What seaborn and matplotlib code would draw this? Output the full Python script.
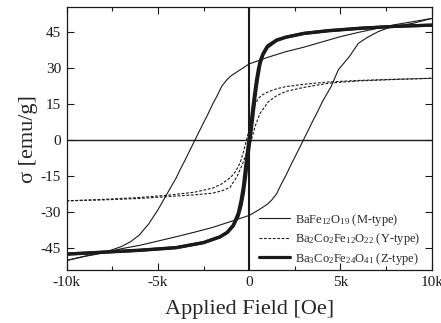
import numpy as np
import pandas as pd
import seaborn as sns
import matplotlib.pyplot as plt

# M-type (BaFe12O19), descending and ascending branches, field in Oe
m_down_x = [10000, 9000, 8000, 7000, 6000, 5000, 4000, 3000, 2000, 1000, 0, -500, -1000, -1230,
            -1500, -1780, -2000, -2330, -2500, -2970, -3500, -3790, -4010, -4500, -5010, -5500,
            -6020, -6500, -7030, -7850, -9000, -10000]
m_down_y = [50.8, 49.5, 48.2, 46.6, 45.0, 43.2, 41.0, 38.8, 36.9, 34.5, 31.8, 29.3, 26.8, 25.1,
            22.5, 18.1, 15.0, 9.7, 7.2, 0.0, -8.2, -12.5, -16.0, -22.5, -29.3, -35.0,
            -39.7, -42.5, -44.6, -46.7, -48.5, -50.3]
m_up_x = [-10000, -9000, -8000, -7000, -6000, -5000, -4000, -3000, -2000, -1000, 0, 500, 1000, 1230,
          1500, 1780, 2000, 2330, 2500, 2970, 3500, 3790, 4010, 4500, 4880, 5500,
          5980, 6500, 7070, 7700, 9000, 10000]
m_up_y = [-50.3, -48.6, -47.2, -45.4, -44.0, -42.2, -40.4, -38.5, -36.5, -34.0, -31.5, -29.3, -26.8, -25.1,
          -22.5, -18.1, -15.0, -9.7, -7.2, 0.0, 8.2, 12.5, 16.0, 22.5, 29.3, 35.0,
          40.4, 43.0, 45.3, 47.1, 48.8, 50.8]

# Y-type (Ba2Co2Fe12O22)
y_down_x = [10000, 8000, 6000, 4400, 3000, 2000, 1500, 1050, 750, 500, 350, 230, 100, 0, -150,
            -300, -500, -750, -1000, -1500, -2000, -3000, -4400, -6000, -8000, -10000]
y_down_y = [25.8, 25.4, 24.9, 24.3, 23.3, 22.3, 21.4, 20.2, 19.0, 17.4, 15.2, 12.5, 8.0, 4.4, 0.0,
            -4.6, -9.6, -13.2, -15.5, -18.3, -20.1, -21.8, -23.0, -24.0, -24.8, -25.4]
y_up_x = [-10000, -8000, -6000, -4400, -3000, -2000, -1500, -1050, -670, -390, -200, 0, 120,
          320, 590, 1050, 1500, 2000, 3000, 4400, 6000, 8000, 10000]
y_up_y = [-25.4, -25.0, -24.4, -23.6, -22.9, -22.2, -21.2, -19.8, -15.3, -10.5, -6.5, -2.8, 0.0,
          5.6, 11.1, 16.0, 18.5, 20.3, 22.0, 23.8, 24.7, 25.3, 25.8]

# Z-type (Ba3Co2Fe24O41), very narrow loop: both branches on one field grid
z_x = [10000, 8000, 6000, 4300, 3000, 2000, 1500, 1000, 750, 600, 500, 400, 300, 200, 100, 0,
       -100, -200, -320, -450, -600, -870, -1200, -1600, -2500, -4000, -6000, -8000, -10000]
z_down_y = [48.0, 47.5, 46.7, 45.7, 44.6, 43.0, 41.8, 39.3, 36.0, 33.0, 29.5, 25.0, 19.5, 13.5, 7.0, 1.0,
            -5.0, -11.5, -19.5, -25.5, -30.6, -35.5, -38.5, -40.4, -42.8, -44.9, -46.0, -46.8, -47.6]
z_up_y = [48.0, 47.5, 46.6, 45.6, 44.5, 42.9, 41.6, 38.8, 35.5, 31.9, 27.5, 22.6, 16.7, 9.6, 3.4, -2.6,
          -8.9, -15.5, -22.3, -27.5, -31.7, -35.9, -38.7, -40.5, -42.9, -45.0, -46.1, -46.9, -47.7]

labels = ['BaFe$\\mathregular{_{12}}$O$\\mathregular{_{19}}$ (M-type)',
          'Ba$\\mathregular{_2}$Co$\\mathregular{_2}$Fe$\\mathregular{_{12}}$O$\\mathregular{_{22}}$ (Y-type)',
          'Ba$\\mathregular{_3}$Co$\\mathregular{_2}$Fe$\\mathregular{_{24}}$O$\\mathregular{_{41}}$ (Z-type)']

x_ticks = [-10000, -5000, 0, 5000, 10000]
x_tick_labels = ['-10k', '-5k', '0', '5k', '10k']
y_ticks = [-45, -30, -15, 0, 15, 30, 45]
y_tick_labels = ['-45', '-30', '-15', '0', '15', '30', '45']

sns.set_theme(style="ticks")
plt.rcParams['font.family'] = ['Liberation Serif', 'DejaVu Serif']
plt.rcParams['mathtext.fontset'] = 'custom'
plt.rcParams['mathtext.rm'] = 'Liberation Serif'
plt.rcParams['axes.unicode_minus'] = False

fig, ax = plt.subplots(figsize=(4.41, 3.23), dpi=100)
fig.subplots_adjust(left=0.151, right=0.979, bottom=0.164, top=0.977)

ax.axhline(0, color='k', lw=1.0, zorder=1)
ax.axvline(0, color='k', lw=1.5, zorder=1)

styles = [dict(lw=0.8, linestyle='-'),
          dict(lw=0.8, linestyle=(0, (2.5, 1.5))),
          dict(lw=2.3, linestyle='-')]
branches = [(m_down_x, m_down_y, m_up_x, m_up_y),
            (y_down_x, y_down_y, y_up_x, y_up_y),
            (z_x, z_down_y, z_x, z_up_y)]

for (dx, dy, ux, uy), lab, st in zip(branches, labels, styles):
    sns.lineplot(x=dx, y=dy, sort=False, estimator=None, ax=ax, color='k', label=lab, **st)
    sns.lineplot(x=ux, y=uy, sort=False, estimator=None, ax=ax, color='k', label='_nolegend_', **st)

ax.set_xlim(-10000, 10000)
ax.set_ylim(-54.3, 55.4)
ax.set_xticks(x_ticks)
ax.set_xticklabels(x_tick_labels)
ax.set_xticks(np.arange(-10000, 10001, 2500), minor=True)
ax.set_yticks(y_ticks)
ax.set_yticklabels(y_tick_labels)
ax.tick_params(which='both', direction='in', top=True, right=True, labelsize=11, colors='k')
ax.tick_params(which='major', length=5, width=0.8, pad=4)
ax.tick_params(which='minor', length=3, width=0.8)
for sp in ax.spines.values():
    sp.set_linewidth(0.9)
    sp.set_color('k')

ax.set_xlabel('Applied Field [Oe]', fontsize=16, labelpad=8)
ax.set_ylabel('σ [emu/g]', fontsize=16, labelpad=2)

ax.legend(loc='lower right', bbox_to_anchor=(0.982, -0.006), frameon=False, fontsize=9,
          handlelength=2.5, handletextpad=0.4, labelspacing=0.28, borderaxespad=0)

fig.savefig('out.png', dpi=100)
